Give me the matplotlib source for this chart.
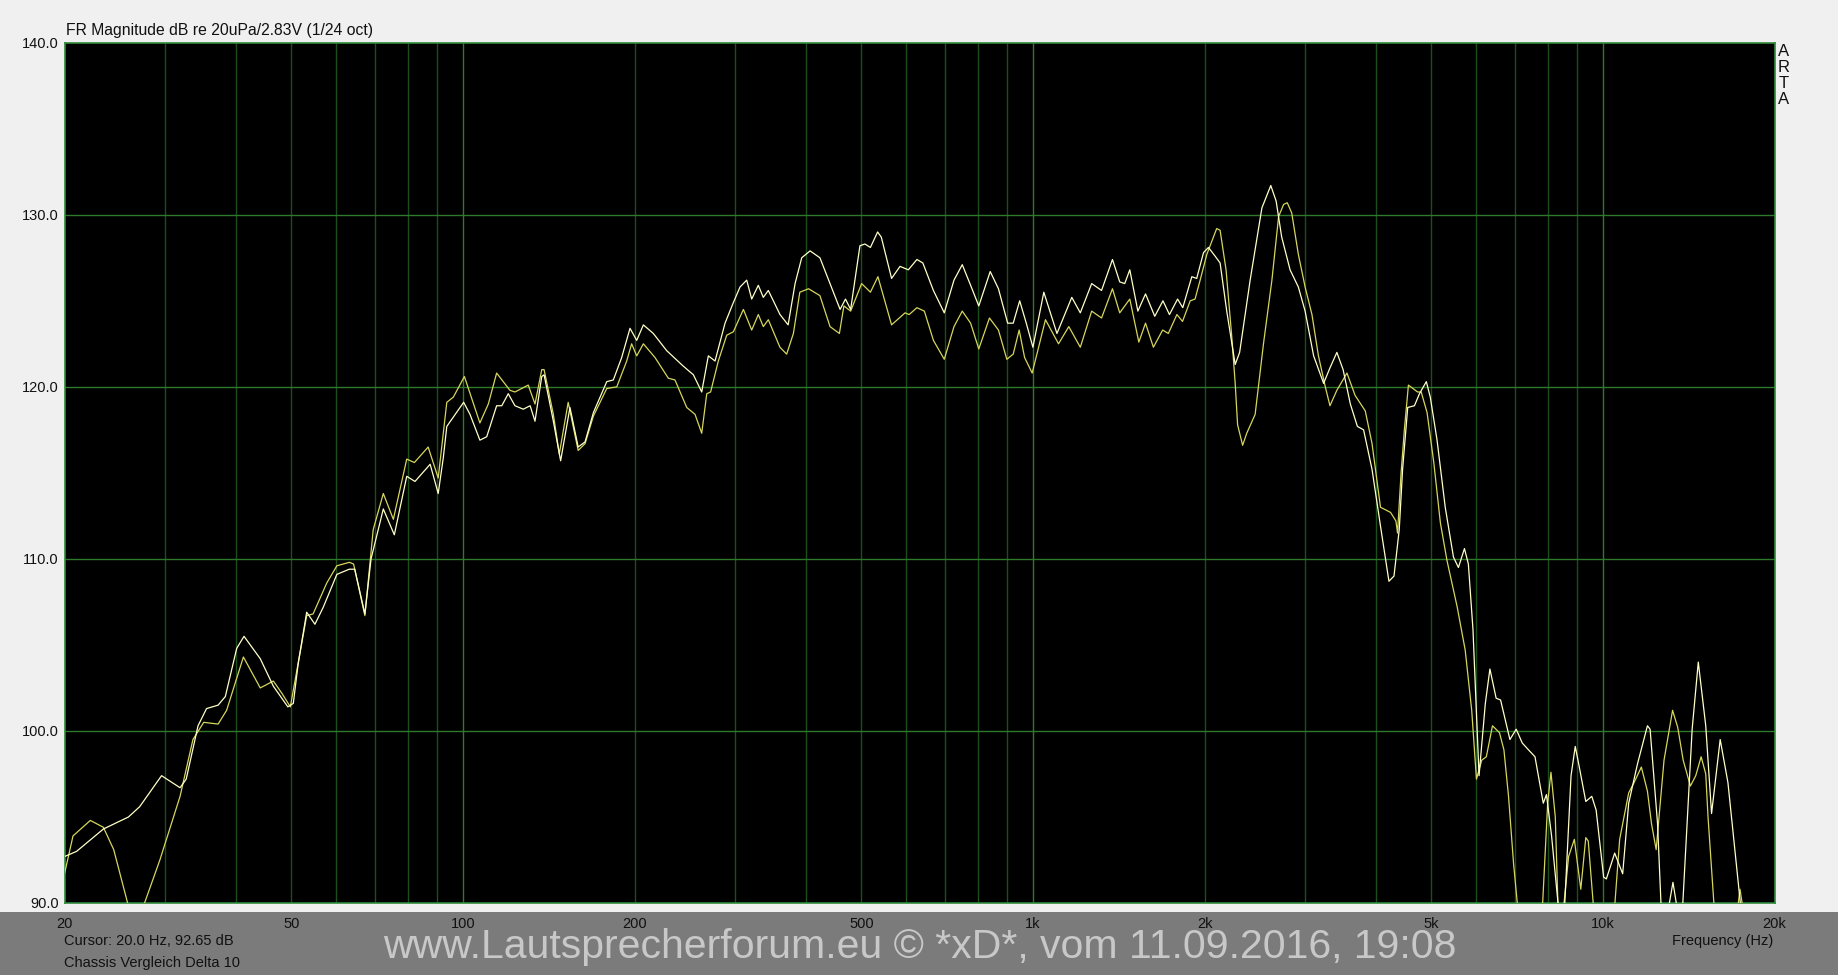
import matplotlib
matplotlib.use('Agg')
import matplotlib.pyplot as plt
from matplotlib.patches import Rectangle

W = 1838
H = 975

# white-ish curve (freq Hz, dB)
freq_a = [20.0, 21.0, 23.4, 25.9, 27.1, 29.6, 31.9, 32.7, 34.3, 35.5, 37.2, 38.3, 40.1, 41.3, 44.1,
          46.5, 49.3, 50.4, 51.4, 53.2, 55.0, 56.9, 60.1, 63.2, 64.6, 67.3, 69.0, 72.5, 75.8, 79.7,
          82.4, 87.6, 90.5, 92.4, 93.7, 100.3, 102.9, 107.1, 110.1, 114.6, 117.0, 120.1, 123.4, 127.6,
          131.2, 133.8, 137.5, 138.8, 144.1, 148.4, 154.1, 159.3, 163.8, 169.4, 178.8, 183.6, 189.9,
          196.4, 201.8, 207.3, 215.8, 227.8, 243.6, 253.7, 262.4, 269.5, 276.9, 288.3, 298.2, 306.3,
          314.7, 321.1, 329.8, 336.5, 343.4, 360, 372, 382.6, 393, 406.5, 423, 440.6, 458.9, 469,
          478.9, 497.2, 507.3, 518.7, 534, 542, 565, 584.6, 604.6, 625.9, 641, 669, 699, 727, 751.7,
          777.5, 803.6, 841.6, 870, 903, 923.5, 948, 973.5, 1000, 1045, 1102, 1170, 1211, 1268,
          1319.5, 1379, 1420, 1449, 1479, 1528, 1576, 1636, 1691, 1736, 1794, 1832, 1900, 1938,
          1992, 2032, 2087, 2130, 2188, 2264, 2305, 2405, 2522, 2614, 2671, 2732, 2826, 2922, 3003,
          3108, 3236, 3320, 3414, 3501, 3605, 3709, 3803, 3935, 4072, 4213, 4300, 4392, 4452, 4545,
          4670, 4766, 4900, 4979, 5117, 5289, 5468, 5578, 5716, 5807, 5916, 6016, 6063, 6219, 6335,
          6497, 6614, 6868, 7045, 7219, 7404, 7600, 7859, 7961, 8127, 8341, 8450, 8573, 8792, 8943,
          9090, 9332, 9560, 9730, 10030, 10140, 10487, 10831, 11097, 11502, 11970, 12100, 12470,
          12650, 12850, 13050, 13270, 13480, 13650, 13800, 14340, 14700, 15150, 15510, 16060, 16570,
          17420, 17800]
db_a = [92.7, 93.0, 94.3, 95.0, 95.6, 97.4, 96.7, 97.2, 100.3, 101.3, 101.5, 102.0, 104.8, 105.5, 104.2,
        102.6, 101.4, 101.6, 103.9, 106.9, 106.2, 107.2, 109.1, 109.4, 109.4, 106.8, 110.0, 112.9, 111.4, 114.8,
        114.5, 115.5, 113.8, 115.9, 117.7, 119.1, 118.4, 116.9, 117.1, 118.9, 118.9, 119.6, 118.9, 118.7,
        118.9, 118.0, 120.6, 120.7, 118.0, 115.7, 118.8, 116.5, 116.8, 118.5, 120.3, 120.4, 121.7,
        123.4, 122.7, 123.6, 123.1, 122.1, 121.2, 120.7, 119.7, 121.8, 121.5, 123.7, 124.9, 125.8,
        126.2, 125.1, 125.9, 125.2, 125.6, 124.2, 123.6, 126.0, 127.5, 127.9, 127.5, 126.0, 124.5, 125.1,
        124.5, 128.2, 128.3, 128.1, 129.0, 128.7, 126.3, 127.0, 126.8, 127.4, 127.2, 125.6, 124.3, 126.2, 127.1,
        125.9, 124.7, 126.7, 125.7, 123.7, 123.7, 125.0, 123.7, 122.3, 125.5, 123.1, 125.2, 124.3, 126.0,
        125.6, 127.4, 126.1, 126.0, 126.8, 124.4, 125.4, 124.1, 125.0, 124.2, 125.1, 124.6, 126.4, 126.3,
        127.8, 128.1, 127.6, 127.2, 124.4, 121.3, 122.0, 126.2, 130.4, 131.7, 130.8, 128.7, 126.8, 125.8, 124.4,
        121.8, 120.2, 121.1, 122.0, 121.0, 119.0, 117.7, 117.5, 115.2, 111.9, 108.7, 109.0, 111.7, 115.2, 118.8,
        118.9, 119.6, 120.3, 119.4, 116.9, 113.0, 110.1, 109.5, 110.6, 109.7, 105.9, 100.1, 97.4, 101.6, 103.6,
        101.9, 101.8, 99.5, 100.1, 99.3, 98.9, 98.5, 95.8, 96.3, 93.9, 90.0, 87.5, 90.0, 97.4, 99.1,
        97.9, 95.9, 96.2, 95.4, 91.5, 91.4, 92.9, 91.7, 95.8, 98.1, 100.3, 100.1, 94.6,
        89.8, 88.0, 89.8, 91.2, 89.8, 88.0, 89.8, 100.1, 104.0, 100.3, 95.2, 99.5, 97.0,
        90.0, 87.0]

# yellow curve (freq Hz, dB)
freq_b = [20.0, 20.7, 22.2, 23.4, 24.4, 25.9, 26.7, 27.5, 29.4, 31.9, 33.6, 35.1, 37.2, 38.5, 41.2,
          44.1, 46.5, 48.1, 49.8, 53.2, 54.6, 57.7, 60.1, 63.2, 64.3, 67.3, 69.6, 72.5, 75.5, 79.7,
          82.2, 86.9, 90.5, 93.7, 96.2, 100.6, 107.1, 110.8, 114.6, 120.9, 123.4, 130.2, 133.8, 137.5,
          138.8, 144.1, 147.6, 153.0, 159.3, 163.8, 169.4, 178.8, 186.2, 193.8, 197.7, 201.8, 207.3,
          217.3, 229.3, 235.5, 247.0, 255.4, 262.4, 267.8, 272, 280.6, 290.3, 298.2, 310.5, 321.1,
          329.8, 336.5, 343.4, 359.9, 369.8, 380, 390, 404, 423, 440.6, 457.6, 466, 478.9, 500.6,
          518.7, 534.7, 565, 596.6, 606.6, 625.9, 645, 669, 699, 727, 751.7, 777.5, 803.6, 839, 870,
          900, 923.5, 946, 967, 997, 1052, 1109, 1156, 1211, 1268, 1319.5, 1379, 1420, 1479, 1534,
          1576, 1627, 1689, 1728, 1789, 1830, 1888, 1925, 1965, 2019, 2101, 2130, 2182, 2233, 2264,
          2286, 2333, 2372, 2454, 2538, 2626, 2698, 2753, 2794, 2845, 2922, 3003, 3087, 3169, 3258,
          3320, 3414, 3556, 3675, 3829, 3935, 4072, 4241, 4334, 4362, 4425, 4484, 4558, 4730, 4800,
          4915, 5050, 5186, 5327, 5551, 5733, 5886, 6000, 6129, 6244, 6401, 6584, 6704, 6830, 6970,
          7085, 7400, 7834, 8000, 8107, 8250, 8341, 8440, 8535, 8706, 8910, 9145, 9332, 9425, 9625,
          10000, 10487, 10700, 11097, 11340, 11680, 11970, 12170, 12400, 12800, 13250, 13530, 13830,
          14240, 14550, 14870, 15150, 15290, 15670, 16500, 17250, 17400, 17580, 18000]
db_b = [91.7, 93.9, 94.8, 94.4, 93.1, 89.8, 88.5, 89.8, 92.5, 96.2, 99.5, 100.5, 100.4, 101.2, 104.3,
        102.5, 102.9, 102.2, 101.4, 106.7, 106.8, 108.6, 109.6, 109.8, 109.7, 106.7, 111.7, 113.8, 112.3, 115.8,
        115.6, 116.5, 114.7, 119.1, 119.4, 120.6, 117.9, 119.0, 120.8, 119.8, 119.7, 120.1, 119.0, 121.0,
        121.0, 118.4, 116.1, 119.1, 116.3, 116.7, 118.3, 119.9, 120.0, 121.5, 122.5, 121.8, 122.5,
        121.7, 120.5, 120.4, 118.8, 118.4, 117.3, 119.6, 119.7, 121.5, 123.0, 123.2, 124.5, 123.3,
        124.2, 123.5, 123.9, 122.3, 121.9, 123.1, 125.5, 125.7, 125.3, 123.5, 123.1, 124.7, 124.4, 126.0,
        125.5, 126.4, 123.6, 124.3, 124.2, 124.6, 124.4, 122.7, 121.6, 123.5, 124.4, 123.7, 122.2, 124.0, 123.3,
        121.6, 121.9, 123.3, 121.7, 120.8, 123.9, 122.5, 123.5, 122.3, 124.4, 124.0, 125.7, 124.3, 125.1, 122.6,
        123.7, 122.3, 123.3, 123.1, 124.2, 123.8, 125.0, 125.1, 126.2, 127.7, 129.2, 129.1, 126.8, 122.9, 120.2,
        117.8, 116.6, 117.3, 118.4, 122.5, 126.2, 129.9, 130.6, 130.7, 130.1, 127.7, 125.8, 124.2, 121.8, 120.0,
        118.9, 119.8, 120.8, 119.5, 118.6, 116.7, 113.0, 112.7, 112.2, 111.5, 115.0, 117.5, 120.1, 119.7, 119.7,
        118.5, 115.6, 112.1, 109.9, 107.2, 104.7, 101.2, 97.2, 98.3, 98.5, 100.3, 99.9, 98.9, 96.2, 92.3,
        89.8, 87.0, 89.8, 95.8, 97.6, 95.0, 89.8, 88.0, 89.8, 92.7, 93.7, 90.8, 93.8, 93.6, 89.8,
        87.0, 89.8, 93.7, 96.4, 97.0, 97.9, 96.5, 94.6, 93.1, 98.3, 101.2, 100.2, 98.3,
        96.8, 97.4, 98.5, 97.5, 95.0, 89.8, 87.0, 89.8, 90.8, 89.8, 88.0]

label_freqs = [20, 50, 100, 200, 500, 1000, 2000, 5000, 10000, 20000]
label_text = ['20', '50', '100', '200', '500', '1k', '2k', '5k', '10k', '20k']
db_ticks = [90, 100, 110, 120, 130, 140]

plt.rcParams['font.family'] = ['Liberation Sans', 'DejaVu Sans']

fig = plt.figure(figsize=(W / 100, H / 100), dpi=100, facecolor='#f0f0f0')

# grey footer band, kept behind the axes
fig.patches.append(Rectangle((0, 0), 1, 63 / H, transform=fig.transFigure,
                             facecolor='#7b7b7b', edgecolor='none', zorder=-10))

left, right, top, bottom = 64.5, 1774.5, 42.7, 903.0
ax = fig.add_axes([left / W, 1 - bottom / H, (right - left) / W, (bottom - top) / H])
ax.set_zorder(1)
ax.set_facecolor('black')
ax.set_xscale('log')
ax.set_xlim(20, 20000)
ax.set_ylim(90, 140)

# grid lines: every 1..9 per decade, decades and 10 dB lines brighter
for dec in [10, 100, 1000, 10000]:
    for m in range(1, 10):
        f = dec * m
        if f <= 20 or f >= 20000:
            continue
        c = '#2d7a2d' if m == 1 else '#1d4f1d'
        ax.axvline(f, color=c, lw=1.0, zorder=1)
for d in db_ticks[1:-1]:
    ax.axhline(d, color='#2d7a2d', lw=1.0, zorder=1)

ax.plot(freq_b, db_b, color='#d6d65c', lw=0.9, zorder=3)
ax.plot(freq_a, db_a, color='#ffffc8', lw=0.9, zorder=4)

for s in ax.spines.values():
    s.set_color('#2f8a3a')
    s.set_linewidth(1.2)

ax.set_xticks(label_freqs)
ax.set_xticklabels(label_text)
ax.xaxis.set_minor_locator(matplotlib.ticker.NullLocator())
ax.set_yticks(db_ticks)
ax.set_yticklabels(['%.1f' % d for d in db_ticks])
ax.tick_params(axis='both', length=0, labelsize=10.5, colors='#111111')
ax.tick_params(axis='x', pad=10)
ax.tick_params(axis='y', pad=4)

fig.text(66 / W, 1 - 31 / H, 'FR Magnitude dB re 20uPa/2.83V (1/24 oct)', fontsize=11.3,
         va='center', ha='left', color='#111111')
for i, ch in enumerate('ARTA'):
    fig.text(1784 / W, 1 - (51 + 16 * i) / H, ch, fontsize=12, va='center', ha='center',
             color='#111111')

fig.text(64.5 / W, 1 - 941 / H, 'Cursor: 20.0 Hz, 92.65 dB', fontsize=10.5, va='center', ha='left',
         color='#111111')
fig.text(64.5 / W, 1 - 963 / H, 'Chassis Vergleich Delta 10', fontsize=10.5, va='center', ha='left',
         color='#111111')
fig.text(1773 / W, 1 - 941 / H, 'Frequency (Hz)', fontsize=10.5, va='center', ha='right',
         color='#111111')
fig.text(920 / W, 1 - 947 / H, 'www.Lautsprecherforum.eu \u00a9 *xD*, vom 11.09.2016, 19:08',
         fontsize=29.5, va='center', ha='center', color='#c8c8c8')

fig.savefig('out.png', dpi=100, facecolor=fig.get_facecolor())
